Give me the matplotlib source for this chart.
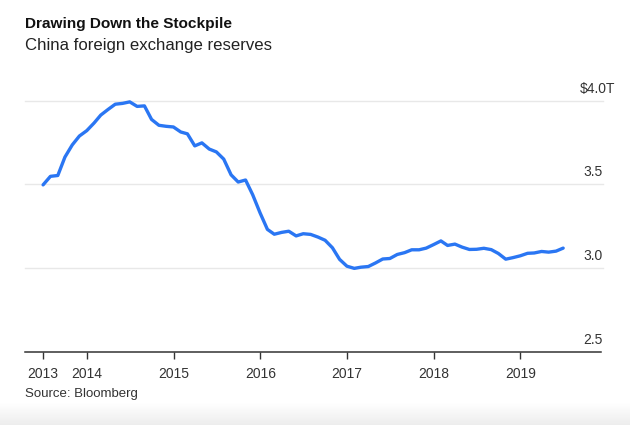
import numpy as np
import matplotlib
matplotlib.use("Agg")
import matplotlib.pyplot as plt
import matplotlib.dates as mdates
from matplotlib.transforms import blended_transform_factory, offset_copy

# ---- data: China FX reserves, trillion USD, month-end Jun 2013 .. Jun 2019
start_month = "2013-07"   # first of month after first observation
end_month = "2019-08"
reserves = [
    3.497, 3.548, 3.553, 3.663, 3.736, 3.789, 3.821,
    3.867, 3.914, 3.948, 3.979, 3.984, 3.993, 3.966, 3.969, 3.888, 3.853, 3.847, 3.843,
    3.813, 3.802, 3.730, 3.748, 3.711, 3.694, 3.651, 3.557, 3.514, 3.526, 3.438, 3.330,
    3.231, 3.202, 3.213, 3.220, 3.192, 3.205, 3.201, 3.185, 3.166, 3.121, 3.052, 3.011,
    2.998, 3.005, 3.009, 3.030, 3.054, 3.057, 3.081, 3.092, 3.109, 3.109, 3.119, 3.140,
    3.162, 3.135, 3.143, 3.125, 3.111, 3.112, 3.118, 3.110, 3.087, 3.053, 3.062, 3.073,
    3.088, 3.090, 3.099, 3.095, 3.101, 3.119,
]
year_ticks = ["2014-01-01", "2015-01-01", "2016-01-01", "2017-01-01",
              "2018-01-01", "2019-01-01"]
year_labels = ["2014", "2015", "2016", "2017", "2018", "2019"]
first_label = "2013"
y_ticks = [2.5, 3.0, 3.5, 4.0]
y_labels = ["2.5", "3.0", "3.5", "$4.0T"]

title = "Drawing Down the Stockpile"
subtitle = "China foreign exchange reserves"
source = "Source: Bloomberg"

months = np.arange(np.datetime64(start_month), np.datetime64(end_month),
                   np.timedelta64(1, "M"))
dates = months.astype("datetime64[D]") - np.timedelta64(1, "D")
xd = mdates.date2num(dates)

FONT = "Liberation Sans"
plt.rcParams["font.family"] = [FONT, "DejaVu Sans"]

W, H = 630, 425
fig = plt.figure(figsize=(W / 100, H / 100), dpi=100)
fig.patch.set_facecolor("white")

# axes placement in pixels
ax_left, ax_right = 25, 601
y_bot_px, y_top_val_px = 351.7, 100.7   # pixel rows of 2.5 and 4.0
px_per_unit = (y_bot_px - y_top_val_px) / 1.5
ylim_top = 4.1
ax_top_px = y_bot_px - (ylim_top - 2.5) * px_per_unit
ax = fig.add_axes([ax_left / W, 1 - y_bot_px / H,
                   (ax_right - ax_left) / W, (y_bot_px - ax_top_px) / H])

# x scale: 2014-01-01 at px 87, 86.7 px per year
x2014 = mdates.date2num(np.datetime64("2014-01-01"))
px_per_day = 86.7 / 365.25
ax.set_xlim(x2014 - (87 - ax_left) / px_per_day,
            x2014 + (ax_right - 87) / px_per_day)
ax.set_ylim(2.5, ylim_top)

for v in y_ticks[1:]:
    ax.axhline(v, color="#e8e8e8", lw=1.0, zorder=1, xmax=1.003, clip_on=False)

ax.plot(xd, reserves, color="#2a76f3", lw=2.4, solid_joinstyle="round",
        solid_capstyle="round", zorder=3)

for s in ["top", "right", "left"]:
    ax.spines[s].set_visible(False)
ax.spines["bottom"].set_color("#333333")
ax.spines["bottom"].set_linewidth(1.1)
ax.set_yticks([])

tick_pos = [xd[0]] + [mdates.date2num(np.datetime64(d)) for d in year_ticks]
ax.set_xticks(tick_pos)
ax.set_xticklabels([first_label] + year_labels)
ax.tick_params(axis="x", length=5, width=1, color="#333333", pad=6,
               labelsize=10, labelcolor="#333333")

# right-side value labels
trans = blended_transform_factory(fig.transFigure, ax.transData)
t = offset_copy(trans, fig=fig, x=0, y=8, units="dots")
for v, lab in zip(y_ticks, y_labels):
    xr = 615 if lab.endswith("T") else 603
    ax.text(xr / W, v, lab, transform=t, ha="right", va="baseline",
            fontsize=10, color="#333333")

fig.text(25 / W, 1 - 28.3 / H, title, fontsize=11.1, fontweight="bold",
         color="#111111", va="baseline", ha="left")
fig.text(25 / W, 1 - 50 / H, subtitle, fontsize=12.1,
         color="#222222", va="baseline", ha="left")
fig.text(25 / W, 1 - 397 / H, source, fontsize=9.5,
         color="#333333", va="baseline", ha="left")

# subtle grey band at the bottom (screenshot shading)
grad = np.linspace(1.0, 0.93, 50).reshape(-1, 1)
bax = fig.add_axes([0, 0, 1, 22 / H], zorder=-5)
bax.imshow(np.dstack([grad, grad, grad]), aspect="auto",
           extent=[0, 1, 0, 1], origin="upper")
bax.axis("off")

fig.savefig("out.png", dpi=100, facecolor="white")
